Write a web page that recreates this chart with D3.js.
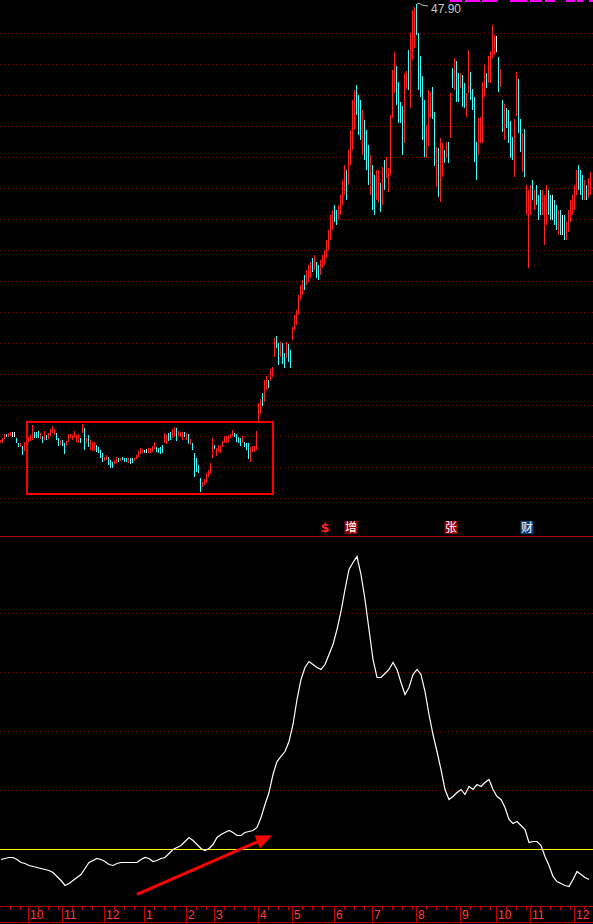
<!DOCTYPE html>
<html>
<head>
<meta charset="utf-8">
<script src="https://cdn.jsdelivr.net/npm/d3@7"></script>
<style>
  html, body { margin: 0; padding: 0; background: #000; }
  svg { display: block; }
</style>
</head>
<body>
<script>
// daily candles, oldest first
var highs = [
  19.77,19.90,20.16,20.16,20.23,20.29,20.29,20.29,19.90,19.58,
  19.58,19.39,19.64,19.64,19.97,20.10,20.74,20.29,20.29,20.35,
  20.23,20.03,20.35,20.10,20.23,20.48,20.68,20.48,20.23,19.90,
  19.77,19.77,19.58,19.71,20.16,20.16,20.10,20.35,20.10,20.16,
  19.90,20.81,20.55,19.90,20.10,19.77,19.64,19.64,19.45,19.32,
  19.13,18.94,18.68,18.81,18.68,18.48,18.35,18.48,18.68,18.61,
  18.61,18.68,18.61,18.61,18.61,18.61,18.61,18.61,18.81,19.07,
  19.26,19.19,19.13,19.19,19.26,19.26,19.39,19.64,19.32,19.26,
  19.32,19.45,20.23,20.10,20.23,20.29,20.48,20.61,20.55,20.35,
  20.29,20.29,20.29,20.23,20.16,19.84,19.58,18.94,18.61,18.16,
  17.32,17.06,17.26,17.64,17.84,18.29,19.90,19.45,19.26,19.45,
  19.39,19.71,20.03,20.03,20.10,20.16,20.42,20.23,20.16,19.97,
  19.90,20.03,19.64,19.58,19.58,19.32,19.39,19.39,20.35,22.16,
  22.42,22.81,23.65,23.90,23.65,24.35,24.48,26.35,26.48,26.03,
  26.10,26.03,25.39,26.10,25.97,25.58,27.06,27.84,28.16,29.13,
  29.77,30.10,30.42,30.74,31.06,31.26,31.52,31.71,31.26,31.06,
  31.39,31.71,32.03,32.68,33.32,34.29,34.61,34.94,34.61,34.94,
  35.58,36.55,37.52,37.19,38.48,39.77,41.71,42.35,42.68,42.03,
  41.71,41.06,40.42,39.77,38.81,38.16,37.52,36.87,37.19,37.19,
  36.35,37.39,37.84,38.03,37.32,40.74,43.65,44.81,43.90,42.87,
  41.58,41.32,43.45,43.58,44.94,46.03,47.52,47.71,47.90,46.03,
  44.55,43.26,41.71,40.10,42.35,42.23,42.55,40.94,38.68,38.61,
  39.26,38.94,38.48,39.00,39.00,42.16,43.77,44.42,44.23,43.45,
  43.45,43.32,42.81,42.16,44.94,43.52,42.42,41.90,39.00,40.55,
  40.61,42.87,43.97,43.45,44.55,44.87,46.55,45.90,45.84,44.48,
  43.71,41.71,41.45,41.19,41.06,40.35,39.32,40.48,43.52,43.06,
  40.48,39.58,39.84,36.23,35.90,36.23,36.55,35.90,36.23,35.58,
  35.90,35.90,35.58,36.23,35.90,35.58,35.58,35.26,34.94,34.61,
  34.61,34.29,34.29,33.84,34.61,35.26,35.58,36.23,37.19,37.52,
  37.19,36.87,36.55,36.23,36.68,37.06
];
var lows = [
  19.58,19.58,19.84,19.97,19.97,20.03,19.97,19.97,19.58,19.32,
  19.32,18.81,19.07,19.26,19.64,19.71,19.77,19.90,19.90,19.90,
  19.84,19.58,19.77,19.77,19.84,20.03,20.23,20.10,19.77,19.39,
  19.45,19.39,18.87,19.39,19.64,19.90,19.77,19.90,19.64,19.58,
  19.58,20.23,19.13,19.58,19.32,19.13,19.07,19.07,19.00,18.94,
  18.61,18.35,18.42,18.48,18.16,17.97,17.97,18.22,18.29,18.35,
  18.42,18.48,18.35,18.35,18.29,18.22,18.29,18.42,18.55,18.68,
  18.87,18.94,18.94,18.94,18.94,18.94,19.00,19.19,19.00,18.94,
  18.87,18.94,19.58,19.52,19.71,19.77,19.90,19.97,19.71,20.03,
  19.97,19.77,19.97,19.77,19.52,19.45,19.13,17.39,17.71,17.64,
  16.42,16.74,16.87,17.00,17.39,17.58,18.61,19.19,18.74,19.00,
  18.94,19.32,19.58,19.58,19.64,19.90,20.03,19.97,19.64,19.58,
  19.39,19.58,19.32,19.13,18.55,18.35,19.00,19.00,19.13,20.87,
  21.45,21.97,22.22,23.00,23.13,23.58,23.84,25.13,25.71,24.61,
  25.13,24.68,24.42,25.06,24.80,24.42,26.23,26.87,27.19,27.84,
  28.81,29.13,29.45,29.77,29.97,30.23,30.61,30.74,30.23,30.10,
  30.42,30.87,31.06,31.52,32.03,32.68,33.32,33.84,33.65,33.97,
  34.29,34.94,35.58,35.26,36.23,37.52,38.48,39.77,40.74,39.45,
  39.13,38.16,37.84,37.19,36.23,35.58,34.61,34.29,35.26,35.06,
  34.48,34.94,35.90,36.68,35.77,36.87,40.55,42.16,41.39,40.23,
  40.23,38.16,38.94,42.42,42.35,41.19,44.29,45.06,45.90,42.35,
  41.90,39.13,38.03,37.97,38.74,40.55,40.48,37.45,36.10,35.45,
  35.13,36.74,37.65,37.97,37.65,39.26,42.48,42.35,41.58,41.58,
  42.48,41.26,41.19,40.61,42.16,41.71,41.06,37.71,36.55,38.16,
  38.94,38.94,41.90,42.48,42.81,42.81,44.42,44.61,44.81,42.23,
  42.55,39.65,39.13,39.90,38.94,37.97,37.84,36.74,40.68,39.58,
  38.35,37.06,36.74,34.29,30.87,34.29,35.26,34.61,34.94,33.97,
  34.29,34.29,32.35,33.65,34.29,33.97,33.97,33.65,33.32,33.00,
  33.00,33.00,32.68,32.68,33.19,33.84,34.29,34.61,35.58,35.90,
  35.58,35.26,35.26,35.26,35.39,35.58
];
var opens = [
  19.64,19.62,19.88,20.12,20.01,20.08,20.13,20.12,19.86,19.55,
  19.37,19.33,19.12,19.30,19.68,19.75,19.84,20.24,20.22,20.30,
  19.90,19.98,19.82,20.05,19.88,20.08,20.29,20.15,20.18,19.84,
  19.50,19.72,19.50,19.44,19.70,19.95,19.82,19.95,19.70,19.64,
  19.85,20.29,20.48,19.62,20.03,19.19,19.12,19.13,19.40,19.28,
  19.07,18.88,18.46,18.53,18.62,18.43,18.30,18.26,18.34,18.57,
  18.45,18.64,18.57,18.56,18.33,18.56,18.55,18.45,18.59,18.72,
  18.92,18.98,19.10,19.06,18.98,18.99,19.05,19.24,19.27,19.21,
  19.27,19.39,19.65,19.58,20.17,20.23,19.96,20.03,20.48,20.07,
  20.02,19.84,20.24,19.83,20.10,19.50,19.52,18.85,18.54,18.10,
  17.24,16.78,16.92,17.06,17.44,17.64,18.70,19.40,18.80,19.05,
  19.00,19.37,19.63,19.64,19.70,19.94,20.08,20.19,20.10,19.92,
  19.84,19.64,19.60,19.52,19.50,18.42,19.05,19.04,19.20,20.95,
  21.52,22.74,22.30,23.06,23.58,23.64,23.90,25.20,26.42,25.96,
  25.19,25.96,25.32,25.13,25.90,25.51,26.29,26.94,27.26,27.91,
  28.87,29.20,30.35,29.84,30.04,30.30,31.45,30.81,31.19,31.00,
  30.49,30.93,31.13,31.58,32.10,32.75,33.40,34.87,34.55,34.03,
  34.36,35.01,35.65,37.12,36.30,37.58,38.55,39.84,42.61,41.96,
  41.64,38.23,40.35,39.70,38.74,35.65,37.45,36.80,35.33,35.13,
  36.29,35.01,37.77,36.74,35.84,36.94,40.61,42.23,43.84,42.81,
  41.52,41.26,39.00,42.48,44.87,41.26,44.35,45.13,47.84,45.97,
  44.48,43.19,41.64,38.03,38.81,40.61,42.48,40.87,36.16,38.55,
  35.19,36.81,38.42,38.03,38.94,39.32,43.71,42.42,44.16,43.39,
  42.55,43.26,42.74,40.68,42.23,43.45,42.35,41.84,38.94,38.23,
  39.00,39.00,41.97,43.39,42.87,42.87,44.48,44.68,45.32,44.42,
  42.61,41.64,39.19,41.13,41.00,40.29,39.26,36.81,40.74,43.00,
  40.42,37.13,39.77,34.36,35.20,34.36,36.48,34.68,36.16,35.52,
  35.84,34.35,32.42,33.71,35.84,35.52,34.80,35.19,34.87,33.06,
  34.55,33.65,34.23,32.74,33.26,33.90,34.35,34.68,35.65,37.45,
  37.12,36.80,35.32,36.16,35.45,35.65
];
var closes = [
  19.71,19.84,20.10,20.00,20.18,20.25,20.13,20.12,19.62,19.36,
  19.53,18.87,19.58,19.60,19.92,20.04,20.55,19.95,19.97,19.95,
  20.18,19.62,20.29,19.82,20.16,20.42,20.62,20.42,19.82,19.45,
  19.71,19.44,18.95,19.66,20.10,20.12,20.05,20.29,20.04,20.10,
  19.62,20.74,19.20,19.85,19.40,19.70,19.58,19.57,19.05,18.98,
  18.67,18.42,18.63,18.75,18.22,18.03,18.02,18.43,18.62,18.40,
  18.57,18.52,18.39,18.40,18.56,18.27,18.34,18.57,18.76,19.02,
  19.20,19.15,18.97,19.06,19.21,19.20,19.33,19.58,19.04,18.98,
  18.93,19.00,20.16,20.03,19.77,19.83,20.42,20.55,19.78,20.30,
  20.24,20.22,20.02,20.17,19.58,19.78,19.18,17.50,17.78,17.70,
  16.50,17.00,17.20,17.58,17.78,18.22,19.80,19.23,19.20,19.40,
  19.33,19.66,19.97,19.98,20.04,20.12,20.36,20.01,19.70,19.63,
  19.45,19.97,19.36,19.18,18.62,19.24,19.33,19.34,20.28,22.08,
  22.35,22.04,23.56,23.84,23.19,24.29,24.42,26.28,25.77,24.68,
  26.03,24.75,24.49,26.03,24.87,24.49,27.00,27.77,28.09,29.04,
  29.70,30.03,29.52,30.67,30.99,31.19,30.68,31.64,30.30,30.16,
  31.32,31.64,31.96,32.61,33.25,34.20,34.54,33.90,33.71,34.87,
  35.51,36.48,37.45,35.33,38.41,39.70,41.64,42.29,40.81,39.52,
  39.19,40.99,37.90,37.26,36.29,38.09,34.68,34.36,37.12,37.12,
  34.55,37.32,35.97,37.97,37.26,40.67,43.58,44.74,41.45,40.29,
  40.29,38.23,43.39,43.52,42.42,45.97,47.45,47.64,45.97,42.42,
  41.97,39.19,38.10,40.03,42.29,42.16,40.55,37.52,38.61,35.52,
  39.19,38.87,37.71,38.94,37.71,42.10,42.55,44.35,41.65,41.65,
  43.39,41.32,41.26,42.10,44.87,41.77,41.13,37.77,36.61,40.48,
  40.55,42.81,43.90,42.55,44.48,44.81,46.48,45.84,45.32,42.29,
  43.65,39.71,41.39,39.97,39.00,38.03,37.90,40.42,43.45,39.65,
  38.42,39.52,36.81,36.16,35.84,36.16,35.32,35.84,35.00,34.03,
  34.35,35.84,35.52,36.16,34.35,34.03,34.80,33.71,33.39,34.55,
  33.06,33.65,32.74,33.77,34.55,35.19,35.52,36.16,37.12,35.97,
  35.65,35.32,36.48,35.32,36.61,37.00
];

// lower indicator, one value every second session
var indicator = [
  -3.39,-3.05,-2.71,-2.71,-3.39,-4.41,-4.75,-5.42,-5.76,-6.10,
  -6.44,-6.78,-7.12,-7.80,-9.15,-10.51,-12.20,-11.53,-10.51,-9.49,
  -8.47,-6.44,-4.41,-3.73,-3.05,-3.39,-4.07,-5.08,-5.42,-4.75,
  -4.41,-4.41,-4.41,-4.41,-4.41,-3.39,-2.71,-3.05,-4.07,-3.73,
  -3.05,-2.71,-1.36,0.00,0.68,1.36,2.71,4.07,3.05,1.69,
  0.34,-0.34,0.34,1.69,4.07,5.08,5.76,6.44,5.76,4.75,
  4.75,5.76,6.10,6.44,7.46,10.85,15.25,19.32,25.42,29.83,
  31.53,33.22,36.61,42.37,50.85,57.63,61.69,63.73,62.71,61.69,
  61.02,62.71,66.10,69.49,74.58,80.68,88.14,94.92,97.30,99.30,
  93.22,84.75,74.58,64.41,58.31,58.31,59.66,61.02,63.39,61.02,
  56.61,52.54,54.92,59.32,61.02,59.32,53.56,45.76,38.98,33.22,
  27.12,20.34,16.95,17.97,19.32,20.34,18.64,21.36,20.34,22.03,
  21.36,22.71,23.73,20.34,17.97,16.95,14.24,10.17,8.81,9.49,
  8.14,6.78,2.37,2.71,2.71,1.36,-2.37,-5.42,-9.15,-10.85,
  -11.53,-12.20,-12.54,-10.17,-7.46,-8.47,-9.49,-10.17
];

// month boundaries (session index) and labels
var monthStart = [14, 31, 52, 72, 93, 107, 129, 146, 167, 186, 208, 230, 248, 265, 287];
var monthLabel = ["10","11","12","1","2","3","4","5","6","7","8","9","10","11","12"];

var priceGrid = [16,18,20,22,24,26,28,30,32,34,36,38,40,42,44,46];
var indGrid = [20, 40, 60, 80];

// event flags above the divider
var flagIdx = [162, 175, 225, 263];
var flagText = ["$", "增", "张", "财"];
var flagFill = ["none", "#960000", "#960000", "#0b3f84"];

// annotations: box around the base, arrow under the breakout
var boxIdx = [13, 136], boxPrice = [16.29, 20.94];
var arrowIdx = [68, 135.5], arrowVal = [-15.25, 4.75];

var width = 593, height = 924;
var N = highs.length;

var svg = d3.select("body").append("svg")
    .attr("width", width)
    .attr("height", height)
    .style("background-color", "#000");

var x = d3.scaleLinear().domain([0, N]).range([0, 2 * N]);
var y = d3.scaleLinear().domain([16, 46]).range([498.5, 33.5]);
var yi = d3.scaleLinear().domain([0, 80]).range([849.5, 613.5]);

// grid
svg.append("g").selectAll("line")
    .data(priceGrid)
    .enter().append("line")
    .attr("x1", 0).attr("x2", width)
    .attr("y1", d => y(d)).attr("y2", d => y(d))
    .attr("stroke", "#780000")
    .attr("stroke-dasharray", "1,3");

svg.append("g").selectAll("line")
    .data(indGrid)
    .enter().append("line")
    .attr("x1", 0).attr("x2", width)
    .attr("y1", d => yi(d)).attr("y2", d => yi(d))
    .attr("stroke", "#780000")
    .attr("stroke-dasharray", "1,3");

// candles (1px wide at this density)
var colorOf = function(i) {
    if (closes[i] > opens[i]) return "#ff2020";
    if (closes[i] < opens[i]) return "#40ffff";
    return "#ffffff";
};
var candles = svg.append("g")
    .attr("shape-rendering", "crispEdges")
    .selectAll("g")
    .data(d3.range(N))
    .enter().append("g");
candles.append("rect")
    .attr("x", i => x(i))
    .attr("width", 1)
    .attr("y", i => Math.round(y(highs[i])))
    .attr("height", i => Math.max(1, Math.round(y(lows[i]) - y(highs[i]))))
    .attr("fill", colorOf);
candles.append("rect")
    .attr("x", i => x(i))
    .attr("width", 1)
    .attr("y", i => Math.round(y(Math.max(opens[i], closes[i]))))
    .attr("height", i => Math.max(1, Math.round(Math.abs(y(opens[i]) - y(closes[i])))))
    .attr("fill", colorOf);

// high marker
var hiIdx = d3.maxIndex(highs);
var hx = x(hiIdx) + 1, hy = y(highs[hiIdx]);
svg.append("path")
    .attr("d", d3.line()([[hx, hy], [hx + 2, hy - 1], [hx + 5, hy + 1], [hx + 11, hy + 2]]))
    .attr("fill", "none")
    .attr("stroke", "#c0c0c0");
svg.append("text")
    .attr("x", hx + 14).attr("y", hy + 9)
    .attr("fill", "#c8c8c8")
    .style("font", "12px 'Liberation Sans', Arial, sans-serif")
    .text(highs[hiIdx].toFixed(2));

// clipped title strip at the very top
var stripX = [[450, 462], [465, 480], [482, 497], [510, 527], [530, 542], [545, 555], [566, 575], [577, 583], [589, 593]];
svg.append("g").selectAll("rect")
    .data(stripX)
    .enter().append("rect")
    .attr("x", d => d[0]).attr("width", d => d[1] - d[0])
    .attr("y", 0).attr("height", 2)
    .attr("fill", "#ff00ff");

// base box
svg.append("rect")
    .attr("x", x(boxIdx[0]) + 1)
    .attr("y", y(boxPrice[1]))
    .attr("width", x(boxIdx[1]) - x(boxIdx[0]))
    .attr("height", y(boxPrice[0]) - y(boxPrice[1]))
    .attr("fill", "none")
    .attr("stroke", "#ff0000")
    .attr("stroke-width", 2);

// divider
svg.append("line")
    .attr("x1", 0).attr("x2", width)
    .attr("y1", 536.5).attr("y2", 536.5)
    .attr("stroke", "#b00000");

var flags = svg.append("g").selectAll("g")
    .data(flagIdx)
    .enter().append("g")
    .attr("transform", i => "translate(" + (x(i) + 1) + ",0)");
flags.append("rect")
    .attr("x", -6.5).attr("y", 521)
    .attr("width", 13).attr("height", 13)
    .attr("fill", (d, k) => flagFill[k]);
flags.append("text")
    .attr("x", 0).attr("y", 532)
    .attr("text-anchor", "middle")
    .attr("fill", (d, k) => k === 0 ? "#ff2020" : "#ffffff")
    .style("font", (d, k) => k === 0 ? "bold 13px 'DejaVu Sans', sans-serif" : "12px 'Noto Sans CJK SC', sans-serif")
    .text((d, k) => flagText[k]);

// indicator
svg.append("line")
    .attr("x1", 0).attr("x2", width)
    .attr("y1", yi(0)).attr("y2", yi(0))
    .attr("stroke", "#ffff00");

var line = d3.line()
    .x((d, k) => x(2 * k) + 1)
    .y(d => yi(d));
svg.append("path")
    .datum(indicator)
    .attr("d", line)
    .attr("fill", "none")
    .attr("stroke", "#ffffff")
    .attr("stroke-width", 1.2);

// arrow
var ax0 = x(arrowIdx[0]) + 1, ay0 = yi(arrowVal[0]);
var ax1 = x(arrowIdx[1]) + 1, ay1 = yi(arrowVal[1]);
var ang = Math.atan2(ay1 - ay0, ax1 - ax0);
var headL = 16, headW = 7;
var bx = ax1 - headL * Math.cos(ang), by = ay1 - headL * Math.sin(ang);
svg.append("line")
    .attr("x1", ax0).attr("y1", ay0)
    .attr("x2", bx).attr("y2", by)
    .attr("stroke", "#ff0000")
    .attr("stroke-width", 3);
svg.append("path")
    .attr("d", d3.line()([
        [ax1, ay1],
        [bx + headW * Math.sin(ang), by - headW * Math.cos(ang)],
        [bx - headW * Math.sin(ang), by + headW * Math.cos(ang)]
    ]) + "Z")
    .attr("fill", "#ff0000");

// time axis
var axisG = svg.append("g");
axisG.append("line")
    .attr("x1", 0).attr("x2", width)
    .attr("y1", 906.5).attr("y2", 906.5)
    .attr("stroke", "#c00000");
axisG.append("line")
    .attr("x1", 0).attr("x2", width)
    .attr("y1", 922.5).attr("y2", 922.5)
    .attr("stroke", "#c00000");

var minor = [];
var starts = [0].concat(monthStart);
starts.forEach(function(s, k) {
    var end = k + 1 < starts.length ? starts[k + 1] : N;
    for (var j = s + 5; j < end - 1; j += 5) minor.push(j);
});
axisG.selectAll(".minor")
    .data(minor)
    .enter().append("line")
    .attr("x1", i => x(i) + 0.5).attr("x2", i => x(i) + 0.5)
    .attr("y1", 907).attr("y2", 910)
    .attr("stroke", "#c00000");

axisG.selectAll(".sep")
    .data(monthStart)
    .enter().append("line")
    .attr("x1", i => x(i) + 0.5).attr("x2", i => x(i) + 0.5)
    .attr("y1", 907).attr("y2", 922)
    .attr("stroke", "#c00000");

axisG.selectAll(".lbl")
    .data(monthStart)
    .enter().append("text")
    .attr("x", i => x(i) + 2)
    .attr("y", 919)
    .attr("fill", "#ff3c3c")
    .style("font", "12px 'Liberation Sans', Arial, sans-serif")
    .text((d, k) => monthLabel[k]);
</script>
</body>
</html>
